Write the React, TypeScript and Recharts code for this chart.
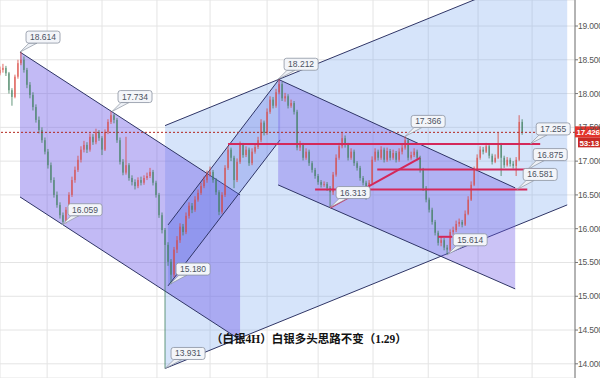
import {
  ComposedChart, Area, Bar, XAxis, YAxis, CartesianGrid,
  ReferenceLine, ReferenceDot
} from 'recharts';

// 4H bars as [close, high, low]; every bar opens at the previous close
const firstOpen = 18.3;

const legOpen = [
  [18.35, 18.40, 18.27], [18.38, 18.44, 18.31], [18.30, 18.41, 18.26], [18.05, 18.32, 18.00],
  [17.95, 18.08, 17.82], [18.25, 18.28, 17.93], [18.45, 18.50, 18.22], [18.50, 18.614, 18.42],
];

const legFall1 = [
  [18.35, 18.55, 18.31], [18.13, 18.38, 18.08], [17.98, 18.17, 17.93], [17.80, 18.02, 17.75],
  [17.61, 17.84, 17.57], [17.46, 17.66, 17.41], [17.31, 17.50, 17.27], [17.14, 17.35, 17.10],
  [16.94, 17.18, 16.89], [16.72, 16.98, 16.68], [16.50, 16.76, 16.46], [16.35, 16.55, 16.31],
  [16.20, 16.39, 16.15], [16.10, 16.24, 16.059],
];

const legBounce = [
  [16.28, 16.32, 16.08], [16.50, 16.54, 16.25], [16.72, 16.77, 16.47], [16.87, 16.92, 16.68],
  [17.02, 17.08, 16.84], [17.17, 17.22, 16.98], [17.24, 17.30, 17.13], [17.17, 17.28, 17.12],
  [17.36, 17.41, 17.14], [17.28, 17.40, 17.24], [17.43, 17.48, 17.25], [17.34, 17.46, 17.30],
  [17.17, 17.37, 17.09], [17.43, 17.47, 17.15], [17.58, 17.62, 17.40], [17.68, 17.734, 17.55],
];

const legFall2 = [
  [17.61, 17.70, 17.56], [17.31, 17.64, 17.27], [16.99, 17.35, 16.95], [16.83, 17.03, 16.79],
  [16.94, 17.36, 16.80], [16.75, 16.97, 16.71], [16.69, 16.79, 16.64], [16.63, 16.73, 16.58],
  [16.72, 16.76, 16.60], [16.68, 16.77, 16.64], [16.75, 16.79, 16.65], [16.78, 16.83, 16.72],
  [16.84, 16.90, 16.75], [16.68, 16.87, 16.64], [16.50, 16.71, 16.46], [16.20, 16.53, 16.16],
  [15.98, 16.24, 15.93], [15.76, 16.01, 13.931], [15.51, 15.80, 15.45], [15.32, 15.55, 15.18],
];

const legRally = [
  [15.69, 15.73, 15.28], [15.83, 15.89, 15.64], [16.03, 16.08, 15.79], [15.95, 16.07, 15.90],
  [16.19, 16.24, 15.92], [16.34, 16.39, 16.15], [16.28, 16.38, 16.23], [16.43, 16.48, 16.25],
  [16.53, 16.58, 16.40], [16.63, 16.68, 16.50], [16.72, 16.77, 16.60], [16.80, 16.86, 16.68],
  [16.84, 16.92, 16.77], [16.72, 16.87, 16.68], [16.54, 16.75, 16.50], [16.25, 16.57, 16.20],
  [16.50, 16.54, 16.22], [16.90, 16.94, 16.47], [17.17, 17.22, 16.87], [17.05, 17.20, 17.00],
  [16.72, 17.08, 16.60], [16.99, 17.04, 16.69], [17.24, 17.29, 16.96], [17.09, 17.27, 17.05],
  [17.17, 17.22, 17.06], [16.97, 17.20, 16.93], [17.14, 17.19, 16.94], [17.21, 17.26, 17.11],
  [17.31, 17.36, 17.18], [17.57, 17.62, 17.28], [17.42, 17.60, 17.38], [17.73, 17.78, 17.39],
  [17.91, 17.96, 17.70], [17.82, 17.95, 17.78], [18.02, 18.07, 17.79], [18.14, 18.212, 17.99],
];

const legFall3 = [
  [17.93, 18.17, 17.89], [17.96, 18.01, 17.88], [17.82, 17.99, 17.78], [17.86, 17.91, 17.79],
  [17.73, 17.89, 17.69], [17.20, 17.76, 17.16], [17.24, 17.30, 17.15], [17.05, 17.27, 17.01],
  [17.14, 17.19, 17.02], [16.97, 17.17, 16.93], [16.87, 17.00, 16.83], [16.78, 16.90, 16.74],
  [16.69, 16.81, 16.65], [16.65, 16.72, 16.61], [16.66, 16.70, 16.62], [16.60, 16.69, 16.56],
  [16.54, 16.63, 16.313],
];

const legRange = [
  [16.80, 16.84, 16.50], [17.05, 17.10, 16.77], [17.22, 17.27, 17.02], [17.34, 17.43, 17.19],
  [17.24, 17.38, 17.20], [17.05, 17.27, 17.01], [17.14, 17.19, 17.02], [16.97, 17.17, 16.93],
  [16.90, 17.00, 16.86], [16.75, 16.93, 16.71], [16.68, 16.78, 16.64], [16.50, 16.71, 16.43],
  [16.68, 16.72, 16.47], [17.02, 17.07, 16.65], [17.14, 17.19, 16.99], [17.05, 17.17, 17.01],
  [17.17, 17.22, 17.02], [17.02, 17.20, 16.98], [17.15, 17.20, 16.99], [17.05, 17.18, 17.01],
  [17.12, 17.17, 17.02], [17.02, 17.15, 16.98], [17.14, 17.19, 16.99], [17.20, 17.25, 17.10],
  [17.31, 17.366, 17.17], [17.05, 17.34, 17.01], [17.09, 17.14, 17.02], [17.14, 17.19, 17.06],
  [17.05, 17.17, 17.01],
];

const legFall4 = [
  [16.87, 17.08, 16.83], [16.60, 16.90, 16.56], [16.43, 16.63, 16.39], [16.28, 16.46, 16.24],
  [16.10, 16.31, 16.06], [15.94, 16.13, 15.90], [15.79, 15.97, 15.75], [15.83, 15.88, 15.74],
  [15.72, 15.86, 15.68], [15.69, 15.76, 15.614],
];

const legRecovery = [
  [15.95, 15.99, 15.66], [15.98, 16.03, 15.91], [16.07, 16.12, 15.95], [16.10, 16.15, 16.03],
  [16.06, 16.13, 16.02], [16.22, 16.27, 16.04], [16.43, 16.48, 16.20], [16.65, 16.70, 16.41],
  [16.87, 16.92, 16.63], [17.05, 17.10, 16.85], [17.17, 17.22, 17.02], [17.14, 17.21, 17.10],
  [17.22, 17.27, 17.12], [17.08, 17.25, 17.04], [16.99, 17.11, 16.95], [17.05, 17.10, 16.97],
  [17.24, 17.42, 17.03], [17.05, 17.27, 16.78], [16.94, 17.08, 16.90], [17.02, 17.06, 16.92],
  [16.96, 17.05, 16.92], [16.93, 17.00, 16.89], [17.02, 17.06, 16.78], [17.58, 17.68, 17.00],
  [17.43, 17.62, 17.39],
];

// channels: two anchor bars, lower and upper boundary
const channelA = [{ i: 6.67, lo: 16.47, hi: 18.614 }, { i: 80, lo: 14.355, hi: 16.5 }];
const channelB = [{ i: 55, lo: 13.931, hi: 17.526 }, { i: 189, lo: 16.352, hi: 19.947 }];
const channelC = [{ i: 56, lo: 15.154, hi: 16.056 }, { i: 93.33, lo: 17.314, hi: 18.231 }];
const channelD = [{ i: 92.67, lo: 16.648, hi: 18.212 }, { i: 171.67, lo: 15.109, hi: 16.604 }];

// support / resistance: [fromBar, fromPrice, toBar, toPrice]
const levels = [
  [76, 17.255, 180, 17.255],
  [125.7, 16.875, 180, 16.875],
  [105, 16.581, 175.7, 16.581],
  [110, 16.313, 140, 17.05],
  [146, 15.88, 150.7, 15.88],
];

const pivots = [
  { i: 6.67, v: 18.614 }, { i: 37.33, v: 17.734 }, { i: 20.67, v: 16.059 },
  { i: 56.67, v: 15.18 }, { i: 55, v: 13.931 }, { i: 92.67, v: 18.212 },
  { i: 135, v: 17.366 }, { i: 110, v: 16.313 }, { i: 149, v: 15.614 },
  { i: 176.67, v: 17.255 }, { i: 175.67, v: 16.875 }, { i: 172.33, v: 16.581 },
];

const priceTicks = [14, 14.5, 15, 15.5, 16, 16.5, 17, 17.5, 18, 18.5, 19];
const sessionTicks = [15.7, 34, 52.3, 70, 89, 106, 124.3, 142.7, 159.3, 177.3];
const lastPrice = 17.426;
const countdown = '53:13';
const title = '（白银4H）白银多头思路不变（1.29）';

const xEnd = 191.6;

const rows = [
  ...legOpen, ...legFall1, ...legBounce, ...legFall2, ...legRally,
  ...legFall3, ...legRange, ...legFall4, ...legRecovery,
];
const candles = rows.map((r, i) => ({
  i,
  open: i === 0 ? firstOpen : rows[i - 1][0],
  close: r[0],
  high: r[1],
  low: r[2],
  range: [r[2], r[1]],
}));

const UP = '#d9443c';
const DOWN = '#3d7d5c';
const SANS = "'Liberation Sans', Arial, sans-serif";
const band = (d: any) => [d.lo, d.hi];

const Candle = (props: any) => {
  const { x, y, width, height, payload } = props;
  if (x == null || y == null) return null;
  const top = Math.min(y, y + height);
  const h = Math.abs(height);
  const span = payload.high - payload.low || 1;
  const yOf = (v: number) => top + ((payload.high - v) / span) * h;
  const up = payload.close >= payload.open;
  const color = up ? UP : DOWN;
  const b1 = yOf(Math.max(payload.open, payload.close));
  const b2 = yOf(Math.min(payload.open, payload.close));
  const cx = x + width / 2;
  return (
    <g>
      <line x1={cx} x2={cx} y1={top} y2={top + h} stroke={color} strokeWidth={0.8} />
      <rect x={x} y={b1} width={width} height={Math.max(0.8, b2 - b1)} fill={color} />
    </g>
  );
};

const Callout = ({ cx, cy, text }: { cx: number; cy: number; text: string }) => {
  const bx = cx + 6;
  const by = cy - 21;
  const w = 34;
  const h = 12;
  return (
    <g>
      <path d={`M${cx},${cy} L${bx + 3},${by + h} L${bx + 11},${by + h} Z`} fill="#eef1f6" stroke="#8b93a1" strokeWidth={0.7} />
      <rect x={bx} y={by} width={w} height={h} rx={2.5} fill="#f3f5f9" stroke="#8b93a1" strokeWidth={0.8} />
      <text x={bx + w / 2} y={by + h / 2 + 3} textAnchor="middle" fontSize={8.5} fill="#4b5362"
        fontFamily={SANS}>{text}</text>
    </g>
  );
};

// last price and bar countdown sitting on the price axis
const PriceTag = ({ cx, cy }: { cx: number; cy: number }) => (
  <g fontFamily={SANS} fontWeight={700} fontSize={8} letterSpacing={-0.2}>
    <rect x={cx} y={cy - 6} width={30} height={11} fill="#e3342b" />
    <text x={cx + 1.5} y={cy + 3} fill="#fff">{lastPrice.toFixed(3)}</text>
    <rect x={cx + 3} y={cy + 5} width={27} height={10} fill="#c92a24" />
    <text x={cx + 4.5} y={cy + 13.3} fill="#fff">{countdown}</text>
  </g>
);

export default function App() {
  return (
    <div style={{ position: 'absolute', left: 0, top: 0, width: 600, height: 378, overflow: 'hidden', background: '#fff' }}>
      <ComposedChart width={620} height={378} data={candles} margin={{ top: 0, right: 0, bottom: 0, left: 0 }}>
        <CartesianGrid stroke="#e4e4e4" />
        <XAxis dataKey="i" type="number" domain={[0, xEnd]} ticks={sessionTicks} hide allowDataOverflow />
        <YAxis
          orientation="right"
          domain={[13.79, 19.385]}
          ticks={priceTicks}
          width={45}
          allowDataOverflow
          tickFormatter={(v: number) => v.toFixed(3)}
          tick={{ fill: '#555', fontSize: 8.5, fontFamily: SANS, letterSpacing: -0.2 }}
          axisLine={{ stroke: '#777' }}
          tickLine={{ stroke: '#777' }}
          tickSize={3}
          tickMargin={0}
        />

        <Area data={channelB} dataKey={band} type="linear" fill="#78a5f0" fillOpacity={0.3}
          stroke="#2f3566" strokeWidth={1} dot={false} activeDot={false} isAnimationActive={false} />
        <Area data={channelA} dataKey={band} type="linear" fill="#6e5ae6" fillOpacity={0.42}
          stroke="#2f3566" strokeWidth={1} dot={false} activeDot={false} isAnimationActive={false} />
        <Area data={channelC} dataKey={band} type="linear" fill="#5a6ee6" fillOpacity={0.3}
          stroke="#2f3566" strokeWidth={1} dot={false} activeDot={false} isAnimationActive={false} />
        <Area data={channelD} dataKey={band} type="linear" fill="#6e5ae6" fillOpacity={0.36}
          stroke="#2f3566" strokeWidth={1} dot={false} activeDot={false} isAnimationActive={false} />

        <ReferenceLine y={lastPrice} stroke="#b3261e" strokeDasharray="2 2" strokeWidth={1} />

        <Bar dataKey="range" barSize={2} shape={Candle} isAnimationActive={false} />

        {levels.map((s, k) => (
          <ReferenceLine key={k} segment={[{ x: s[0], y: s[1] }, { x: s[2], y: s[3] }]}
            stroke="#d4285a" strokeWidth={2} />
        ))}

        {pivots.map((p, k) => (
          <ReferenceDot key={k} x={p.i} y={p.v} r={0}
            shape={(sp: any) => <Callout cx={sp.cx} cy={sp.cy} text={p.v.toFixed(3)} />} />
        ))}

        <ReferenceDot x={xEnd} y={lastPrice} r={0} shape={(sp: any) => <PriceTag cx={sp.cx} cy={sp.cy} />} />
      </ComposedChart>
      <div style={{
        position: 'absolute', left: 211, top: 332, fontSize: 11.5, fontWeight: 700, color: '#111',
        fontFamily: "'Liberation Serif', 'Noto Sans CJK SC', serif", whiteSpace: 'nowrap', lineHeight: '14px',
      }}>{title}</div>
    </div>
  );
}
